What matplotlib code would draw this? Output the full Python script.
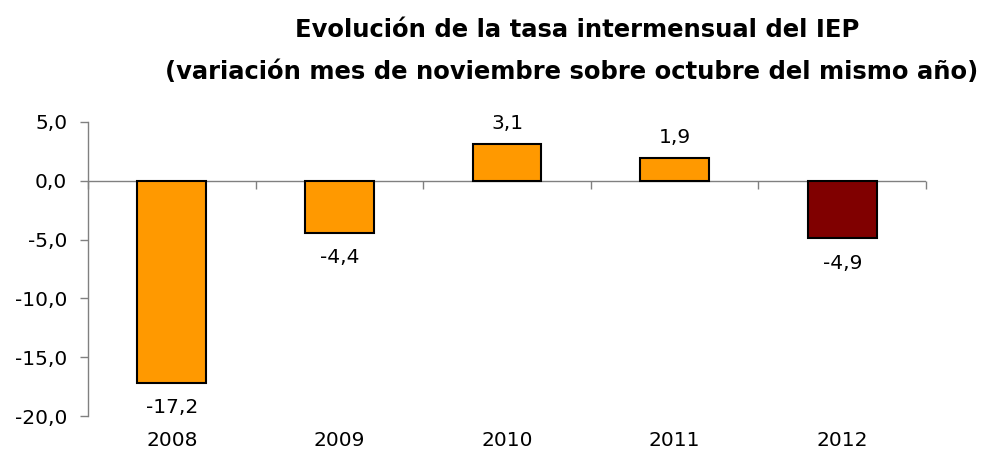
import matplotlib
matplotlib.use("Agg")
import matplotlib.pyplot as plt

years = ["2008", "2009", "2010", "2011", "2012"]
values = [-17.2, -4.4, 3.1, 1.9, -4.9]
colors = ["#FF9900", "#FF9900", "#FF9900", "#FF9900", "#800000"]
yticks = [5, 0, -5, -10, -15, -20]

plt.rcParams['font.family'] = ['DejaVu Sans']
FS = 14.5

fig = plt.figure(figsize=(9.99, 4.61), dpi=100)
ax = fig.add_axes([0.0881, 0.0976, 0.927 - 0.0881, 0.7354 - 0.0976])

x = list(range(len(years)))
ax.bar(x, values, width=0.41, color=colors, edgecolor="black", linewidth=1.5, zorder=3)

for xi, v in zip(x, values):
    lab = f"{v:.1f}".replace(".", ",")
    if v >= 0:
        ax.annotate(lab, (xi, v), xytext=(0, 8), textcoords="offset points",
                    ha="center", va="bottom", fontsize=FS)
    else:
        ax.annotate(lab, (xi, v), xytext=(0, -11), textcoords="offset points",
                    ha="center", va="top", fontsize=FS)

ax.set_xlim(-0.5, len(years) - 0.5)
ax.set_ylim(-20, 5)
ax.set_yticks(yticks)
ax.set_yticklabels([f"{t:.1f}".replace(".", ",") for t in yticks], fontsize=FS)
ax.set_xticks(x)
ax.set_xticklabels(years, fontsize=FS)
ax.tick_params(axis="x", length=0, pad=11)
ax.tick_params(axis="y", length=6, width=1, color="#808080", direction="out", pad=9)

for s in ["top", "right", "bottom"]:
    ax.spines[s].set_visible(False)
ax.spines["left"].set_color("#808080")
ax.spines["left"].set_linewidth(1)

ax.axhline(0, color="#808080", linewidth=1, zorder=2)
sec = ax.secondary_xaxis(20 / 25)
sec.set_xticks([i - 0.5 for i in range(len(years) + 1)])
sec.set_xticklabels([])
sec.tick_params(direction="in", length=6, width=1, color="#808080")
sec.spines["top"].set_visible(False)

fig.text(0.578, 0.935, "Evolución de la tasa intermensual del IEP",
         ha="center", va="center", fontsize=17.5, fontweight="bold")
fig.text(0.572, 0.843, "(variación mes de noviembre sobre octubre del mismo año)",
         ha="center", va="center", fontsize=17.5, fontweight="bold")

fig.savefig("out.png", dpi=100)
